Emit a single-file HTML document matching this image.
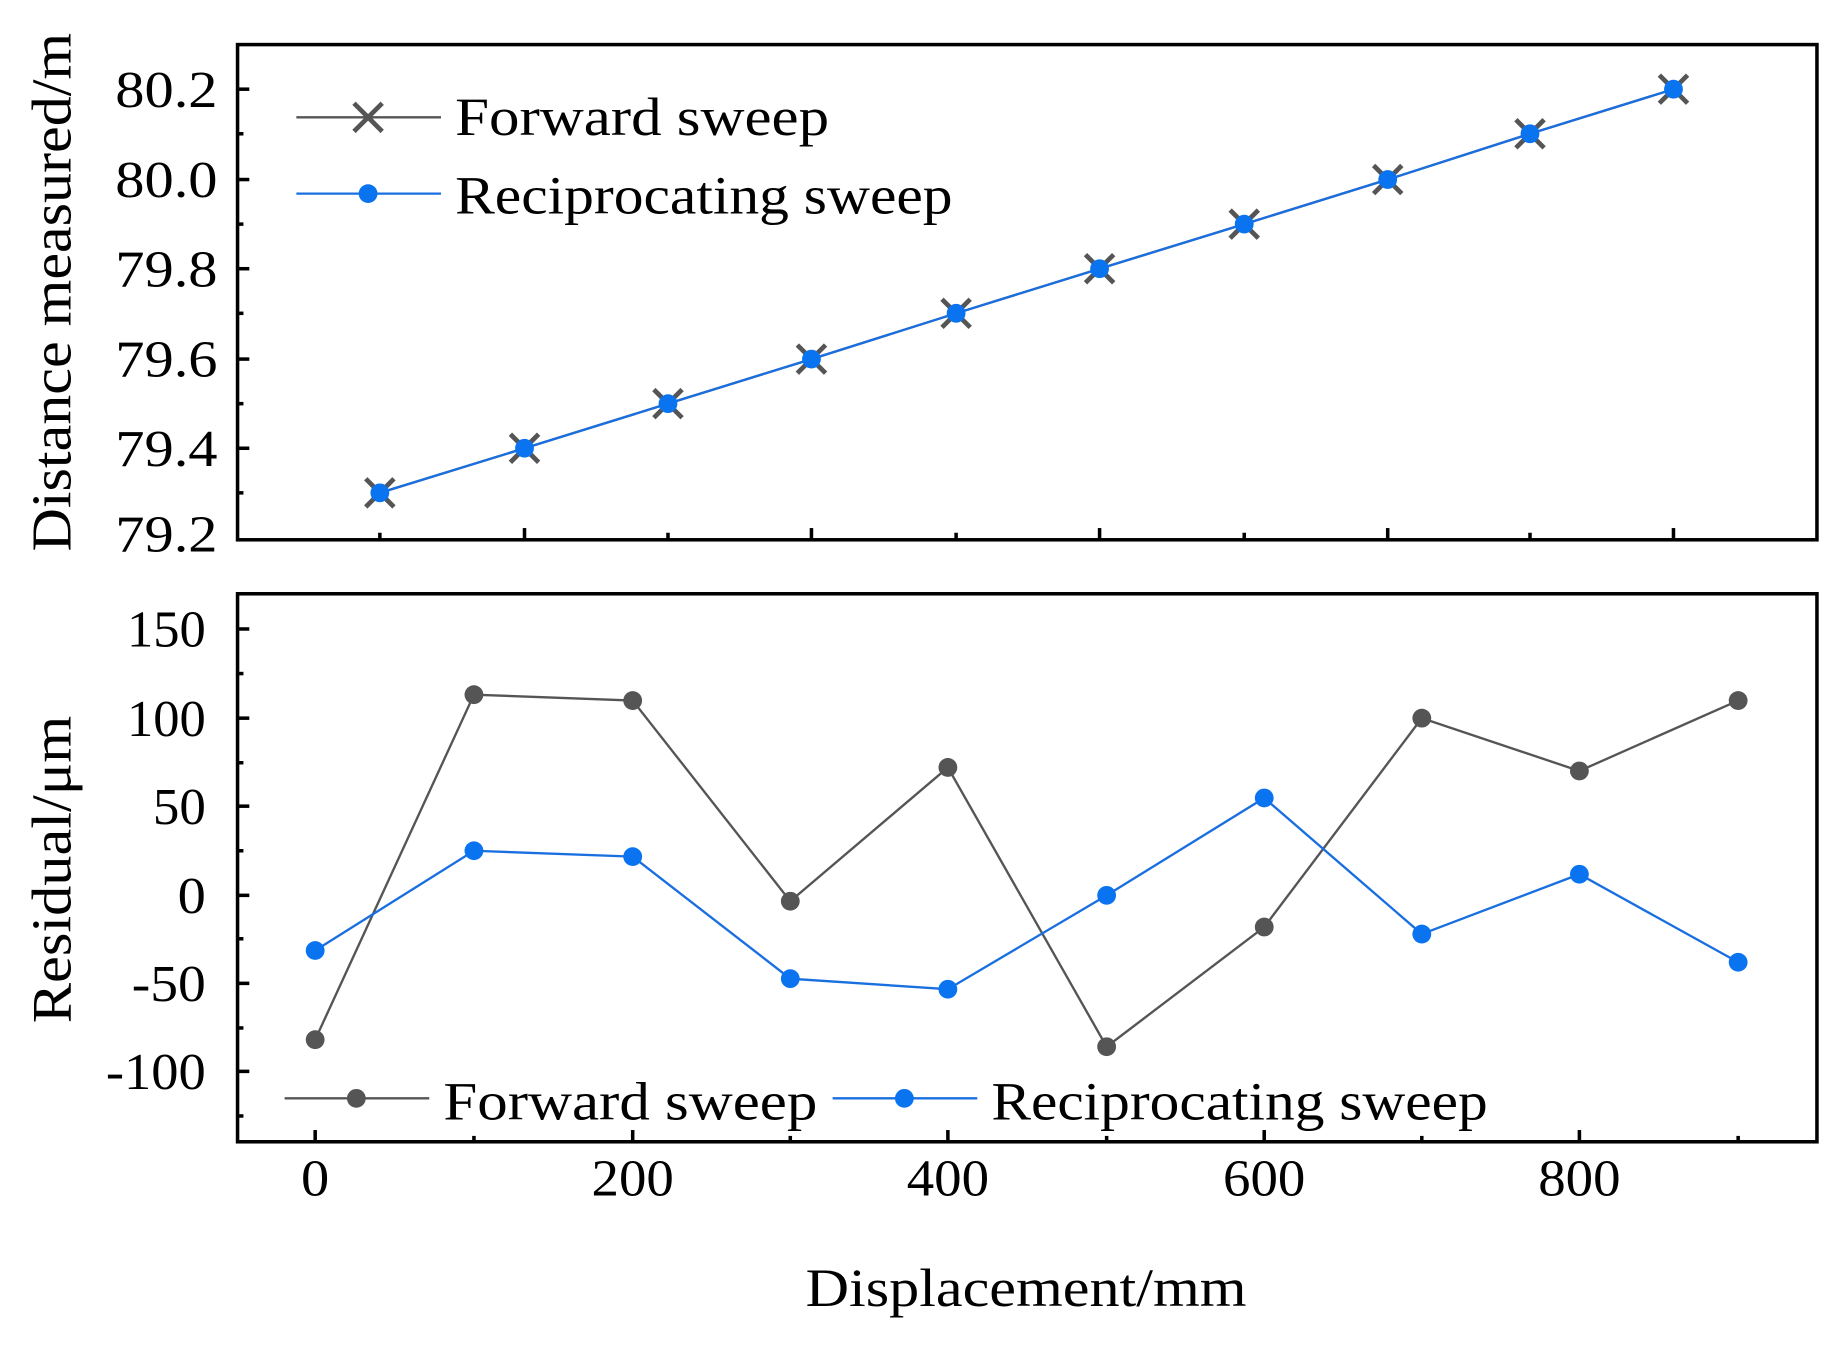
<!DOCTYPE html>
<html><head><meta charset="utf-8"><style>
html,body{margin:0;padding:0;background:#fff;}
svg{display:block;}
text{font-family:"Liberation Serif",serif;fill:#000;}
</style></head><body>
<svg width="1844" height="1353" viewBox="0 0 1568 1153" preserveAspectRatio="none" xmlns="http://www.w3.org/2000/svg">
<rect width="1568" height="1153" fill="#fff"/>
<!-- top panel -->
<rect x="202" y="38" width="1343" height="422" fill="none" stroke="#000" stroke-width="3"/>
<g stroke="#000" stroke-width="3">
<line x1="202" y1="76" x2="212" y2="76"/><line x1="202" y1="153" x2="212" y2="153"/><line x1="202" y1="229" x2="212" y2="229"/><line x1="202" y1="306" x2="212" y2="306"/><line x1="202" y1="382" x2="212" y2="382"/>
<line x1="202" y1="114" x2="207" y2="114"/><line x1="202" y1="191" x2="207" y2="191"/><line x1="202" y1="267" x2="207" y2="267"/><line x1="202" y1="344" x2="207" y2="344"/><line x1="202" y1="420" x2="207" y2="420"/>
<line x1="323" y1="460" x2="323" y2="454"/><line x1="446" y1="460" x2="446" y2="450"/><line x1="568" y1="460" x2="568" y2="454"/><line x1="690" y1="460" x2="690" y2="450"/><line x1="813" y1="460" x2="813" y2="454"/><line x1="935" y1="460" x2="935" y2="450"/><line x1="1058" y1="460" x2="1058" y2="454"/><line x1="1180" y1="460" x2="1180" y2="450"/><line x1="1301" y1="460" x2="1301" y2="454"/><line x1="1423" y1="460" x2="1423" y2="450"/>
</g>
<g font-size="44" lengthAdjust="spacingAndGlyphs">
<text x="98" y="91" textLength="87" lengthAdjust="spacingAndGlyphs">80.2</text><text x="98" y="168" textLength="87" lengthAdjust="spacingAndGlyphs">80.0</text><text x="98" y="244" textLength="87" lengthAdjust="spacingAndGlyphs">79.8</text><text x="98" y="321" textLength="87" lengthAdjust="spacingAndGlyphs">79.6</text><text x="98" y="397" textLength="87" lengthAdjust="spacingAndGlyphs">79.4</text><text x="98" y="470" textLength="87" lengthAdjust="spacingAndGlyphs">79.2</text>
</g>
<text transform="translate(60,249) rotate(-90)" font-size="48" text-anchor="middle" textLength="442" lengthAdjust="spacingAndGlyphs">Distance measured/m</text>
<polyline fill="none" stroke="#555" stroke-width="2" points="323,420 446,382 568,344 690,306 813,267 935,229 1058,191 1180,153 1301,114 1423,76"/>
<g stroke="#555" stroke-width="4">
<path d="M311,408l24,24M335,408l-24,24"/><path d="M434,370l24,24M458,370l-24,24"/><path d="M556,332l24,24M580,332l-24,24"/><path d="M678,294l24,24M702,294l-24,24"/><path d="M801,255l24,24M825,255l-24,24"/><path d="M923,217l24,24M947,217l-24,24"/><path d="M1046,179l24,24M1070,179l-24,24"/><path d="M1168,141l24,24M1192,141l-24,24"/><path d="M1289,102l24,24M1313,102l-24,24"/><path d="M1411,64l24,24M1435,64l-24,24"/>
</g>
<polyline fill="none" stroke="#1a6fe0" stroke-width="2" points="323,420 446,382 568,344 690,306 813,267 935,229 1058,191 1180,153 1301,114 1423,76"/>
<g fill="#0a74f0">
<circle cx="323" cy="420" r="8"/><circle cx="446" cy="382" r="8"/><circle cx="568" cy="344" r="8"/><circle cx="690" cy="306" r="8"/><circle cx="813" cy="267" r="8"/><circle cx="935" cy="229" r="8"/><circle cx="1058" cy="191" r="8"/><circle cx="1180" cy="153" r="8"/><circle cx="1301" cy="114" r="8"/><circle cx="1423" cy="76" r="8"/>
</g>
<!-- top legend -->
<line x1="252" y1="100" x2="375" y2="100" stroke="#555" stroke-width="2"/>
<path d="M301,88l24,24M325,88l-24,24" stroke="#555" stroke-width="4"/>
<text x="387" y="115" font-size="46" textLength="318" lengthAdjust="spacingAndGlyphs">Forward sweep</text>
<line x1="252" y1="165" x2="375" y2="165" stroke="#1a6fe0" stroke-width="2"/>
<circle cx="313" cy="165" r="8" fill="#0a74f0"/>
<text x="387" y="182" font-size="46" textLength="423" lengthAdjust="spacingAndGlyphs">Reciprocating sweep</text>
<!-- bottom panel -->
<rect x="202" y="506" width="1343" height="467" fill="none" stroke="#000" stroke-width="3"/>
<g stroke="#000" stroke-width="3">
<line x1="202" y1="536" x2="212" y2="536"/><line x1="202" y1="612" x2="212" y2="612"/><line x1="202" y1="687" x2="212" y2="687"/><line x1="202" y1="763" x2="212" y2="763"/><line x1="202" y1="838" x2="212" y2="838"/><line x1="202" y1="913" x2="212" y2="913"/>
<line x1="202" y1="574" x2="207" y2="574"/><line x1="202" y1="650" x2="207" y2="650"/><line x1="202" y1="725" x2="207" y2="725"/><line x1="202" y1="800" x2="207" y2="800"/><line x1="202" y1="876" x2="207" y2="876"/><line x1="202" y1="951" x2="207" y2="951"/>
<line x1="268" y1="973" x2="268" y2="963"/><line x1="403" y1="973" x2="403" y2="968"/><line x1="538" y1="973" x2="538" y2="963"/><line x1="672" y1="973" x2="672" y2="968"/><line x1="806" y1="973" x2="806" y2="963"/><line x1="941" y1="973" x2="941" y2="968"/><line x1="1075" y1="973" x2="1075" y2="963"/><line x1="1209" y1="973" x2="1209" y2="968"/><line x1="1343" y1="973" x2="1343" y2="963"/><line x1="1478" y1="973" x2="1478" y2="968"/>
</g>
<g font-size="44">
<text x="108" y="551" textLength="67" lengthAdjust="spacingAndGlyphs">150</text><text x="108" y="627" textLength="67" lengthAdjust="spacingAndGlyphs">100</text><text x="130" y="702" textLength="45" lengthAdjust="spacingAndGlyphs">50</text><text x="151" y="778" textLength="24" lengthAdjust="spacingAndGlyphs">0</text><text x="112" y="853" textLength="63" lengthAdjust="spacingAndGlyphs">-50</text><text x="90" y="928" textLength="85" lengthAdjust="spacingAndGlyphs">-100</text>
</g>
<g font-size="44">
<text x="256" y="1019" textLength="24" lengthAdjust="spacingAndGlyphs">0</text><text x="503" y="1019" textLength="70" lengthAdjust="spacingAndGlyphs">200</text><text x="771" y="1019" textLength="70" lengthAdjust="spacingAndGlyphs">400</text><text x="1040" y="1019" textLength="70" lengthAdjust="spacingAndGlyphs">600</text><text x="1308" y="1019" textLength="70" lengthAdjust="spacingAndGlyphs">800</text>
</g>
<text transform="translate(60,741) rotate(-90)" font-size="48" text-anchor="middle" textLength="262" lengthAdjust="spacingAndGlyphs">Residual/μm</text>
<text x="685" y="1113" font-size="46" textLength="375" lengthAdjust="spacingAndGlyphs">Displacement/mm</text>
<polyline fill="none" stroke="#555" stroke-width="2" points="268,886 403,592 538,597 672,768 806,654 941,892 1075,790 1209,612 1343,657 1478,597"/>
<g fill="#555">
<circle cx="268" cy="886" r="8"/><circle cx="403" cy="592" r="8"/><circle cx="538" cy="597" r="8"/><circle cx="672" cy="768" r="8"/><circle cx="806" cy="654" r="8"/><circle cx="941" cy="892" r="8"/><circle cx="1075" cy="790" r="8"/><circle cx="1209" cy="612" r="8"/><circle cx="1343" cy="657" r="8"/><circle cx="1478" cy="597" r="8"/>
</g>
<polyline fill="none" stroke="#1a6fe0" stroke-width="2" points="268,810 403,725 538,730 672,834 806,843 941,763 1075,680 1209,796 1343,745 1478,820"/>
<g fill="#0a74f0">
<circle cx="268" cy="810" r="8"/><circle cx="403" cy="725" r="8"/><circle cx="538" cy="730" r="8"/><circle cx="672" cy="834" r="8"/><circle cx="806" cy="843" r="8"/><circle cx="941" cy="763" r="8"/><circle cx="1075" cy="680" r="8"/><circle cx="1209" cy="796" r="8"/><circle cx="1343" cy="745" r="8"/><circle cx="1478" cy="820" r="8"/>
</g>
<!-- bottom legend -->
<line x1="242" y1="936" x2="365" y2="936" stroke="#555" stroke-width="2"/>
<circle cx="303" cy="936" r="8" fill="#555"/>
<text x="377" y="954" font-size="46" textLength="318" lengthAdjust="spacingAndGlyphs">Forward sweep</text>
<line x1="708" y1="936" x2="831" y2="936" stroke="#1a6fe0" stroke-width="2"/>
<circle cx="769" cy="936" r="8" fill="#0a74f0"/>
<text x="843" y="954" font-size="46" textLength="422" lengthAdjust="spacingAndGlyphs">Reciprocating sweep</text>
</svg>
</body></html>
